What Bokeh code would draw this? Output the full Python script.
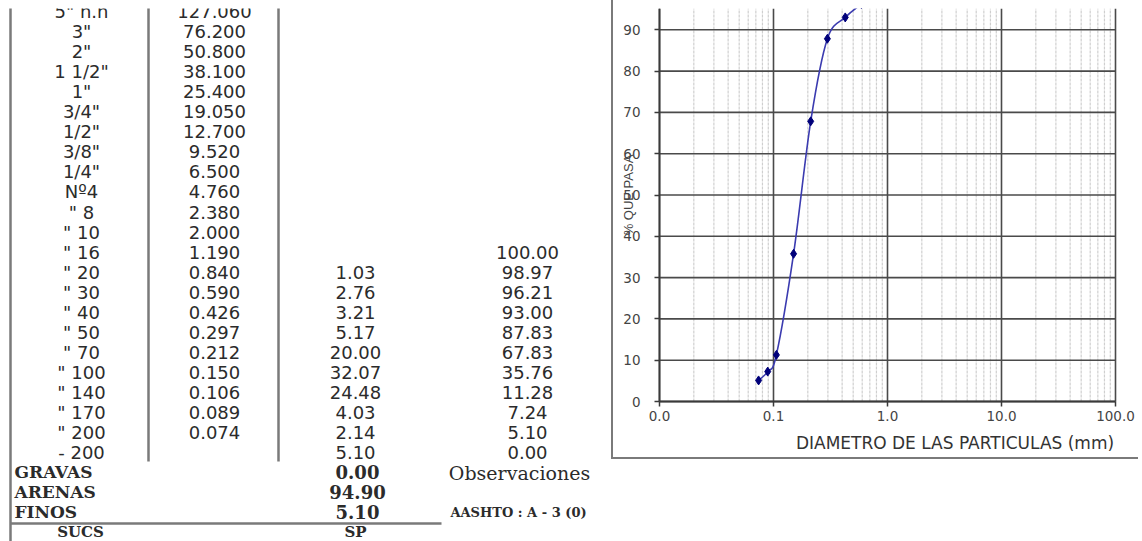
import math
from bokeh.plotting import figure
from bokeh.models import Range1d, FixedTicker, CustomJSTickFormatter
from bokeh.layouts import row
from bokeh.core.properties import value
from bokeh.embed import file_html
from bokeh.resources import INLINE

# ---------------- data ----------------
sieve_labels = ['5" n.n', '3"', '2"', '1 1/2"', '1"', '3/4"', '1/2"', '3/8"', '1/4"', 'Nº4',
                '" 8', '" 10', '" 16', '" 20', '" 30', '" 40', '" 50', '" 70', '" 100',
                '" 140', '" 170', '" 200', '- 200']
openings_mm = [127.060, 76.200, 50.800, 38.100, 25.400, 19.050, 12.700, 9.520, 6.500, 4.760,
               2.380, 2.000, 1.190, 0.840, 0.590, 0.426, 0.297, 0.212, 0.150, 0.106, 0.089,
               0.074, None]
retained_pct = [None] * 13 + [1.03, 2.76, 3.21, 5.17, 20.00, 32.07, 24.48, 4.03, 2.14, 5.10]
passing_pct = [None] * 12 + [100.00, 98.97, 96.21, 93.00, 87.83, 67.83, 35.76, 11.28, 7.24,
                             5.10, 0.00]
summary_labels = ["GRAVAS", "ARENAS", "FINOS"]
summary_values = [0.00, 94.90, 5.10]
sucs_label = "SUCS"
sucs_value = "SP"
obs_label = "Observaciones"
aashto_text = "AASHTO : A - 3 (0)"
x_ticks = [0.01, 0.1, 1, 10, 100]
y_ticks = [0, 10, 20, 30, 40, 50, 60, 70, 80, 90]

TOP = 8  # white band at the top of the picture

# ---------------- table figure (pixel coordinates) ----------------
TXT = "#2b2b2b"
TW, TH = 611, 541
t = figure(width=TW, height=TH, x_range=Range1d(0, TW), y_range=Range1d(TH, TOP),
           output_backend="svg", toolbar_location=None, x_axis_location=None,
           y_axis_location=None, min_border=0, min_border_top=TOP, outline_line_color=None,
           border_fill_color="white")
t.xgrid.visible = False
t.ygrid.visible = False

def row_y(i):
    return 11 + 20.05 * i

n = len(sieve_labels)
ys = [row_y(i) for i in range(n)]

def col_text(xc, texts, size="18px"):
    t.text(x=[xc] * len(texts), y=ys[:len(texts)], text=texts, text_font=value("DejaVu Sans"),
           text_font_size=size, text_align="center", text_baseline="middle", text_color=TXT)

col_text(81, sieve_labels)
col_text(214, [("%.3f" % v) if v is not None else "" for v in openings_mm])
col_text(355, [("%.2f" % v) if v is not None else "" for v in retained_pct])
col_text(527, [("%.2f" % v) if v is not None else "" for v in passing_pct])

sy = [row_y(n + k) - 1 for k in range(3)]
t.text(x=[14] * 3, y=sy, text=summary_labels, text_font=value("DejaVu Serif"),
       text_font_size="17px", text_font_style="bold", text_align="left",
       text_baseline="middle", text_color=TXT)
t.text(x=[357] * 3, y=sy, text=["%.2f" % v for v in summary_values],
       text_font=value("DejaVu Serif"), text_font_size="18px", text_font_style="bold",
       text_align="center", text_baseline="middle", text_color=TXT)
t.text(x=[80, 355], y=[531] * 2, text=[sucs_label, sucs_value],
       text_font=value("DejaVu Serif"), text_font_size="15px", text_font_style="bold",
       text_align="center", text_baseline="middle", text_color=TXT)
t.text(x=[519], y=[row_y(n)], text=[obs_label], text_font=value("DejaVu Serif"),
       text_font_size="19px", text_align="center", text_baseline="middle", text_color=TXT)
t.text(x=[518], y=[row_y(n + 2)], text=[aashto_text], text_font=value("DejaVu Serif"),
       text_font_size="13px", text_font_style="bold", text_align="center",
       text_baseline="middle", text_color=TXT)

# table rules
t.segment(x0=[10, 148, 278, 10], y0=[0, 0, 0, 523], x1=[10, 148, 278, 441],
          y1=[TH, 461, 461, 523], line_color="#7a7a7a", line_width=2.5)

# ---------------- chart figure ----------------
CW, CH = 527, 459          # canvas of the chart box
PX_DEC = 114.0             # pixels per decade on x
X0_PX = 46                 # canvas px of d = 0.01
PX_UNIT = 4.13             # pixels per 1 % on y
Y0_PX = 401                # canvas px (from top) of 0 %
x_lo = 0.01 * 10 ** (-X0_PX / PX_DEC)
x_hi = 0.01 * 10 ** ((CW - X0_PX) / PX_DEC)
y_lo = -(CH - Y0_PX) / PX_UNIT
y_hi = (Y0_PX - TOP) / PX_UNIT

p = figure(width=CW, height=CH, x_axis_type="log", x_range=Range1d(x_lo, x_hi),
           y_range=Range1d(y_lo, y_hi), output_backend="svg", toolbar_location=None,
           min_border=0, min_border_top=TOP, outline_line_color=None,
           background_fill_color="white", border_fill_color="white")
p.styles = {"border-left": "2px solid #7a7a7a", "border-bottom": "2px solid #7a7a7a"}
p.xgrid.visible = False
p.ygrid.visible = False

minor = [m * 10 ** e for e in range(-2, 2) for m in range(2, 10)]
GRID = "#4a4a4a"
p.segment(x0=minor, y0=[0] * len(minor), x1=minor, y1=[y_hi] * len(minor),
          line_color="#cfcfcf", line_width=1.2, line_dash="3 1")
p.segment(x0=x_ticks, y0=[0] * len(x_ticks), x1=x_ticks, y1=[y_hi] * len(x_ticks),
          line_color=GRID, line_width=1.6)
p.segment(x0=[x_ticks[0]] * len(y_ticks), y0=y_ticks, x1=[x_ticks[-1]] * len(y_ticks),
          y1=y_ticks, line_color=GRID, line_width=1.6)

p.xaxis.ticker = FixedTicker(ticks=x_ticks)
p.yaxis.ticker = FixedTicker(ticks=y_ticks)
p.xaxis.formatter = CustomJSTickFormatter(code="return tick.toFixed(1);")
p.xaxis.fixed_location = 0
p.yaxis.fixed_location = x_ticks[0]
p.xaxis.bounds = (x_ticks[0], x_ticks[-1])
p.yaxis.bounds = (0, y_hi)

for ax in (p.xaxis, p.yaxis):
    ax.axis_line_color = "#3a3a3a"
    ax.axis_line_width = 1.8
    ax.major_tick_line_color = "#3a3a3a"
    ax.major_tick_line_width = 1.5
    ax.major_tick_out = 5
    ax.major_tick_in = 0
    ax.minor_tick_line_color = None
    ax.major_label_text_font = "DejaVu Sans"
    ax.major_label_text_font_size = "13.5px"
    ax.major_label_text_color = "#444444"
p.xaxis.major_label_standoff = 4
p.yaxis.major_label_standoff = 14

# data points (ascending diameter)
pts = sorted((d, v) for d, v in zip(openings_mm, passing_pct) if d is not None and v is not None)
px = [a for a, b in pts]
py = [b for a, b in pts]

# smoothed connecting curve (Catmull-Rom in log-x space, like a spreadsheet "smooth line")
u = [math.log10(a) for a in px]
m = len(u)
seg = {k: [] for k in ("x0", "y0", "x1", "y1", "cx0", "cy0", "cx1", "cy1")}
for i in range(m - 1):
    pu, pv = (u[i - 1], py[i - 1]) if i > 0 else (u[i], py[i])
    nu, nv = (u[i + 2], py[i + 2]) if i + 2 < m else (u[i + 1], py[i + 1])
    seg["x0"].append(px[i]); seg["y0"].append(py[i])
    seg["x1"].append(px[i + 1]); seg["y1"].append(py[i + 1])
    seg["cx0"].append(10 ** (u[i] + (u[i + 1] - pu) / 6.0))
    seg["cy0"].append(py[i] + (py[i + 1] - pv) / 6.0)
    seg["cx1"].append(10 ** (u[i + 1] - (nu - u[i]) / 6.0))
    seg["cy1"].append(py[i + 1] - (nv - py[i]) / 6.0)
p.bezier(line_color="#3b3bb0", line_width=1.6, **seg)
p.scatter(px, py, marker="diamond", size=9, fill_color="#00007a", line_color="#00007a")

p.text(x=[x_ticks[0]], y=[50], x_offset=-31, text=["% QUE PASA"], angle=math.pi / 2,
       text_align="center", text_baseline="middle", text_font=value("Liberation Sans"),
       text_font_size="13px", text_color="#444444")
p.text(x=[x_ticks[-1]], y=[0], x_offset=4, y_offset=41,
       text=["DIAMETRO DE LAS PARTICULAS  (mm)"],
       text_align="right", text_baseline="middle", text_font=value("DejaVu Sans"),
       text_font_size="17px", text_color="#333333")

layout = row(t, p)
open("out.html", "w").write(file_html(layout, INLINE))
